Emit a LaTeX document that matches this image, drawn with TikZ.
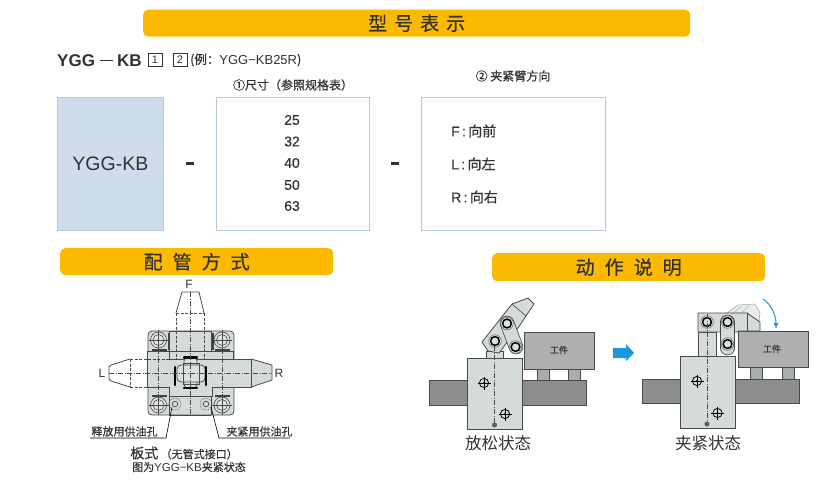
\documentclass[tikz,border=0pt]{standalone}
\usepackage{fontspec}
\usetikzlibrary{arrows.meta}
\setmainfont{Liberation Sans}
\newfontfamily\cjk{Noto Sans CJK SC}
\newfontfamily\cjkb[FakeBold=0.5]{Noto Sans CJK SC}
\newfontfamily\latb[FakeBold=0.5]{Liberation Sans}
\definecolor{banner}{HTML}{FBB900}
\definecolor{boxline}{HTML}{B9CADB}
\definecolor{boxfill}{HTML}{CFDCEB}
\definecolor{steel}{HTML}{D5DADB}
\definecolor{barg}{HTML}{8C8E8D}
\definecolor{workg}{HTML}{AEB0AF}
\definecolor{suppg}{HTML}{A9ADAC}
\definecolor{txt}{HTML}{333333}
\definecolor{lineg}{HTML}{4A4A4A}
\definecolor{arrowb}{HTML}{1E96DC}
\newcommand{\sz}[1]{\fontsize{#1}{#1}\selectfont}
\tikzset{
 x=1pt,y=-1pt,
 bannerbox/.style={fill=banner,rounded corners=5pt,draw=none,minimum height=27pt,inner sep=0pt},
 banlabel/.style={text=txt,font=\cjkb\sz{19}},
 panel/.style={draw=boxline,line width=.8pt,fill=white},
 part/.style={draw=lineg,line width=.8pt,fill=steel},
 edge/.style={draw=lineg,line width=.8pt},
 baseb/.style={draw=lineg,line width=.6pt,fill=barg},
 workb/.style={draw=lineg,line width=.6pt,fill=workg},
 suppb/.style={draw=lineg,line width=.6pt,fill=suppg},
 label/.style={text=txt,inner sep=0pt,font=\cjkb\sz{12}},
 smalllabel/.style={text=txt,inner sep=0pt,font=\cjkb\sz{11}},
 letter/.style={text=txt,inner sep=0pt,font=\sz{12}},
 numlabel/.style={text=txt,inner sep=0pt,font=\latb\sz{14}},
 dirlabel/.style={anchor=west,text=txt,inner sep=0pt,font=\latb\sz{14}},
 numbox/.style={draw=txt,line width=.7pt,inner sep=0pt,minimum width=14pt,minimum height=13pt,text=txt,font=\sz{11}},
 cline/.style={draw=lineg,line width=.35pt,dash pattern=on 5pt off 1.5pt on 1pt off 1.5pt},
 hid/.style={draw=lineg,line width=.7pt,dash pattern=on 3pt off 1.5pt},
 lead/.style={draw=black,line width=.6pt},
}
\newcommand{\target}[2]{%
 \draw[black,line width=.8pt] (#1,#2) circle (4.6pt);
 \draw[black,line width=.7pt] (#1-6.5,#2)--(#1+6.5,#2) (#1,#2-6.5)--(#1,#2+6.5);
 \fill[black] (#1,#2) circle (1.1pt);}
\newcommand{\snap}[2]{%
 \draw[lineg,line width=.4pt,fill=steel!80!white] (#1,#2) circle (6.3pt);
 \draw[black,line width=1.5pt] (#1,#2) circle (4.4pt);}
\newcommand{\screw}[2]{%
 \draw[lineg,line width=.6pt,fill=steel!70!white] (#1,#2) circle (8pt);
 \draw[lineg,line width=.6pt] (#1,#2) circle (5.5pt);
 \draw[lineg,line width=.3pt] (#1-10,#2)--(#1+10,#2) (#1,#2-10)--(#1,#2+10);}
\newcommand{\linkbar}[4]{%
 \draw[lineg,line width=14.5pt,line cap=round] (#1,#2) -- (#3,#4);
 \draw[steel,line width=13pt,line cap=round] (#1,#2) -- (#3,#4);}
\begin{document}
\begin{tikzpicture}
\useasboundingbox (0,0) rectangle (834,479);
\fill[white] (0,0) rectangle (834,479);
% banners
\node[bannerbox,anchor=north west,minimum width=547pt] (b1) at (143,9.5) {};
\node[banlabel] at (b1.center) {型\hspace{7pt}号\hspace{7pt}表\hspace{7pt}示};
\node[bannerbox,anchor=north west,minimum width=273pt] (b2) at (60,248) {};
\node[banlabel] at (b2.center) {配\hspace{10pt}管\hspace{10pt}方\hspace{10pt}式};
\node[bannerbox,anchor=north west,minimum width=273pt,minimum height=28pt] (b3) at (492,253) {};
\node[banlabel] at (b3.center) {动\hspace{10pt}作\hspace{10pt}说\hspace{10pt}明};
% model line
\node[anchor=west,inner sep=0pt,text=txt,font=\bfseries\sz{17}] (ygg) at (57,60.5) {YGG};
\node[anchor=west,inner sep=0pt,text=txt,font=\bfseries\sz{17}] (kb) at (117,60.5) {KB};
\draw[txt,line width=.8pt] (100,60.5) -- (113,60.5);
\node[numbox] (n1) at (155,60) {1};
\node[numbox] (n2) at (180,60) {2};
\node[anchor=west,label,font=\cjkb\sz{12.5}] (ex) at (190,60) {(例：{\fontspec{Liberation Sans}\sz{13}YGG−KB25R})};
\node[label] (t1) at (293,85) {①尺寸（参照规格表）};
\node[label] (t2) at (513,76) {② 夹紧臂方向};
% panels
\node[panel,fill=boxfill,anchor=north west,minimum width=106pt,minimum height=133pt,inner sep=0pt] (p1) at (57,97) {};
\node[text=txt,font=\sz{19.5},inner sep=0pt] at (p1.center) {YGG-KB};
\node[panel,anchor=north west,minimum width=153pt,minimum height=133pt,inner sep=0pt] (p2) at (216,97) {};
\node[panel,anchor=north west,minimum width=184pt,minimum height=133pt,inner sep=0pt] (p3) at (421,97) {};
\fill[txt] (186,162) rectangle (194,165);
\fill[txt] (391,162) rectangle (399,165);
\foreach \v/\y in {25/120,32/141.5,40/163,50/185,63/206}{
 \node[numlabel] at (292,\y) {\v};}
\node[dirlabel] (f) at (451,131) {F\,:\,{\cjkb 向前}};
\node[dirlabel] (l) at (451,164) {L\,:\,{\cjkb 向左}};
\node[dirlabel] (r) at (451,197) {R\,:\,{\cjkb 向右}};
% ---- plan view
\draw[part,rounded corners=4pt] (148,331) rectangle (234,415);
\screw{158.5}{340}
\screw{222}{340}
\screw{158.5}{405}
\screw{222}{405}
\fill[black!75] (167.5,333) rectangle (170,350);
\fill[black!75] (211,333) rectangle (213.5,350);
\fill[black!75] (152,349) rectangle (167,351);
\fill[black!75] (215,349) rectangle (230,351);
\fill[black!75] (152,394.5) rectangle (167,396.5);
\fill[black!75] (215,394.5) rectangle (230,396.5);
% arm
\draw[part] (147,351) -- (169,351) -- (169,359) -- (251,359) -- (251,387) -- (212,387) -- (212,396) -- (169,396) -- (169,387) -- (147,387) -- cycle;
\draw[part] (251,359) -- (272,365) -- (272,380) -- (251,387);
\draw[edge] (169,396) -- (169,415) (211,396) -- (211,415) (169,415) -- (211,415);
\draw[part] (169,331) rectangle (211,351);
\draw[edge] (211,351) -- (233,351) -- (233,359);
\draw[hid] (176,313) -- (176,359) (204,313) -- (204,359);
\draw[edge] (176,313) -- (182,292) -- (199,292) -- (204,313);
\draw[hid] (176,313) -- (204,313);
\draw[hid] (130,359) -- (169,359) (130,387) -- (169,387);
\draw[edge] (130,359) -- (111,365) -- (109,367) -- (109,379) -- (111,381) -- (130,387);
\draw[hid] (130,359) -- (130,387);
\draw[edge] (251,359) -- (251,387);
% centre
\draw[edge,rounded corners=4pt,fill=steel!85!white] (184,357) rectangle (197,388);
\draw[edge,rounded corners=4pt,fill=steel!85!white] (177,365) rectangle (205,382);
\fill[steel!85!white] (184.5,365.6) rectangle (196.5,381.4);
\draw[edge,line width=.6pt] (183,363) rectangle (199,384);
\draw[black,line width=2.2pt,line cap=round] (184,357.5) -- (197,357.5) (184,388) -- (197,388) (175,367) -- (175,385) (206,367) -- (206,385);
\draw[cline] (190,292) -- (190,415);
\draw[cline] (109,373) -- (272,373);
\draw[cline] (158.5,331) -- (158.5,415) (222,331) -- (222,415);
% ports
\draw[lineg,line width=.4pt,dash pattern=on 1.5pt off 1pt] (175,404) circle (6pt);
\draw[lineg,line width=.7pt] (175,404) circle (2.8pt);
\draw[lineg,line width=.4pt,dash pattern=on 1.5pt off 1pt] (206,404) circle (6pt);
\draw[lineg,line width=.7pt] (206,404) circle (2.8pt);
\node[letter] (lf) at (189,284) {F};
\node[letter] (ll) at (102,373) {L};
\node[letter] (lr) at (279,373) {R};
\node[smalllabel] (rel) at (124.5,431.5) {释放用供油孔};
\node[smalllabel] (cla) at (259.5,431.5) {夹紧用供油孔};
\coordinate (p1a) at (172,407);
\coordinate (p1b) at (166,438);
\coordinate (p1c) at (90,438);
\coordinate (p2a) at (211,407);
\coordinate (p2b) at (219,438);
\coordinate (p2c) at (290,438);
\draw[lead] (p1a) -- (p1b) -- (p1c);
\draw[lead] (p2a) -- (p2b) -- (p2c);
\node[text=txt,font=\cjkb\sz{14},inner sep=0pt] (plate) at (184,453) {板式\,{\sz{11}（无管式接口）}};
\node[smalllabel] (cap) at (189,467) {图为{\fontspec{Liberation Sans}\sz{11.5}YGG−KB}夹紧状态};
% ---- released
\draw[baseb] (429,380) rectangle (586,405);
\draw[workb] (524,332) rectangle (594,369);
\draw[suppb] (537,369) rectangle (549,380);
\draw[suppb] (568,369) rectangle (580,380);
\node[text=txt,font=\cjkb\sz{9},inner sep=0pt] (w1) at (559,350) {工件};
\draw[part] (486,351) rectangle (503,358);
\draw[part,line join=round] (482,342) -- (512,304) -- (528,298) -- (534,304) -- (520,325) -- (499,353) -- (488,351) -- cycle;
\draw[lineg,line width=.6pt] (512,304) -- (526,316);
\linkbar{507}{323}{516}{347}
\snap{495}{341}
\snap{507}{323.5}
\snap{515.5}{347}
\draw[part] (467,358) rectangle (522,429);
\draw[cline] (494.5,346) -- (494.5,425);
\target{484}{383}
\target{505}{414}
\draw[lineg,fill=barg!70!black,line width=.4pt] (494.5,425) circle (2.2pt);
\node[text=txt,font=\cjk\sz{16.5},inner sep=0pt] (s1) at (498,443) {放松状态};
% arrow between
\fill[arrowb] (613,348) -- (626,348) -- (626,344) -- (634,353) -- (626,361) -- (626,358) -- (613,358) -- cycle;
% ---- clamped
\draw[baseb] (642,379) rectangle (799,403);
\draw[workb] (738,331) rectangle (808,367);
\draw[suppb] (750,367) rectangle (762,379);
\draw[suppb] (782,367) rectangle (794,379);
\node[text=txt,font=\cjkb\sz{9},inner sep=0pt] (w2) at (772,349) {工件};
\draw[draw=lineg!50,line width=.5pt,fill=steel!50!white,line join=round] (727,313) -- (738,305) -- (755,304) -- (760,313) -- (759,322) -- (747,313) -- cycle;
\draw[draw=lineg!50,line width=.4pt] (733,313) -- (742,306) (741,313) -- (749,306);
\draw[part] (698,332) rectangle (716,356);
\draw[part,line join=round] (698,313) -- (747,313) -- (760,322) -- (760,331) -- (738,331) -- (738,332) -- (698,332) -- cycle;
\draw[lineg,line width=.6pt] (747,313) -- (747,331);
\linkbar{727.5}{322}{727.5}{348}
\snap{707}{322}
\snap{727.5}{322}
\snap{727.5}{344}
\draw[part] (680,356) rectangle (735,428);
\draw[cline] (707,314) -- (707,424);
\target{697}{381}
\target{717.5}{413}
\draw[lineg,fill=barg!70!black,line width=.4pt] (707,424) circle (2.2pt);
\coordinate (ca) at (763,299);
\coordinate (cb) at (776,329);
\draw[arrowb,line width=1pt,-{Latex[length=6pt,width=5pt]}] (ca) .. controls (771,304) and (776,315) .. (cb);
\node[text=txt,font=\cjk\sz{16.5},inner sep=0pt] (s2) at (708,443) {夹紧状态};
\end{tikzpicture}
\end{document}
